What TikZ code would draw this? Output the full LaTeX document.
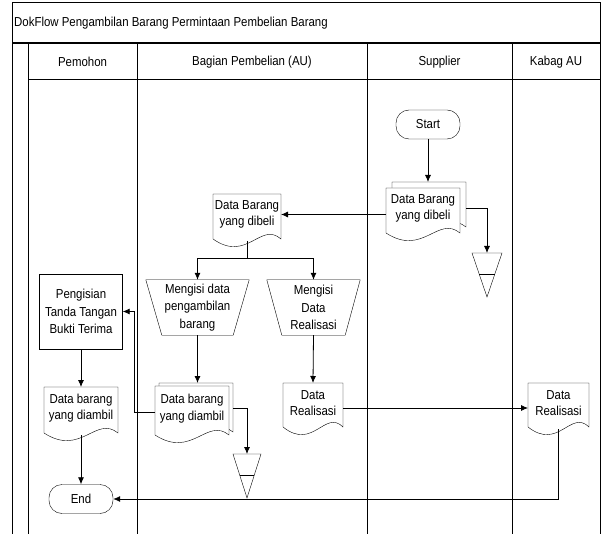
\documentclass[tikz,border=0pt]{standalone}
\usepackage{fontspec}
\setmainfont{Liberation Sans}[FakeStretch=0.88]
\usetikzlibrary{calc}
\usetikzlibrary{positioning}
\usetikzlibrary{arrows.meta}
\usetikzlibrary{backgrounds}

% document with wavy bottom, #2 = offset of the copy
\newcommand{\docpath}[2]{([shift={#2}]#1.north west) -- ([shift={#2}]#1.north east) -- ([shift={#2},yshift=-4pt]#1.south east) .. controls ($(#1.south west)!0.7!(#1.south east)+(0pt,14pt)+#2$) and ($(#1.south west)!0.5!(#1.south east)+(0pt,-28pt)+#2$) .. ([shift={#2},yshift=-4pt]#1.south west) -- cycle}
\newcommand{\drawdoc}[1]{\draw \docpath{#1}{(0pt,0pt)};}
\newcommand{\drawmultidoc}[2]{\begin{pgfonlayer}{background}
  \draw[fill=white] \docpath{#1}{#2};
  \draw[fill=white] \docpath{#1}{(0pt,0pt)};
\end{pgfonlayer}}
\newcommand{\drawmanual}[2]{\draw (#1.north west) -- (#1.north east) -- ([xshift=-#2]#1.south east) -- ([xshift=#2]#1.south west) -- cycle;}
\newcommand{\drawstore}[1]{\draw (#1.north west) -- (#1.north east) -- (#1.south) -- cycle;
  \draw ($(#1.north west)!0.48!(#1.south)$) -- ($(#1.north east)!0.48!(#1.south)$);}

\begin{document}
\begin{tikzpicture}[x=1pt, y=-1pt,
    every node/.style={font=\fontsize{13}{16.5}\selectfont, align=center},
    frame/.style={line width=1pt},
    term/.style={draw, rectangle, rounded corners=13pt, minimum width=64pt, minimum height=29pt, inner sep=0pt},
    proc/.style={draw, rectangle, minimum width=83pt, minimum height=75pt, inner sep=0pt, font=\fontsize{13}{17.5}\selectfont},
    doc/.style={rectangle, inner sep=0pt, outer sep=0pt},
    manual/.style={rectangle, inner sep=0pt, minimum height=55pt, font=\fontsize{13}{17.5}\selectfont},
    store/.style={rectangle, inner sep=0pt, outer sep=0pt, minimum width=30pt, minimum height=44pt},
    arr/.style={-{Latex[length=7pt,width=6pt]}, line width=0.8pt}]
  \useasboundingbox (0,0) rectangle (607,534);

  % swimlanes
  \draw[frame] (12.5,534) -- (12.5,3) -- (600.5,3) -- (600.5,534);
  \draw[line width=1.6pt] (12.5,43) -- (600.5,43);
  \draw[frame] (28,80) -- (600.5,80);
  \foreach \x in {28,137,367,512}
    \draw[frame] (\x,43) -- (\x,534);
  \node[anchor=west, inner sep=0pt] (title) at (14,23) {DokFlow Pengambilan Barang Permintaan Pembelian Barang};
  \node (lanePemohon) at (82.5,62) {Pemohon};
  \node (laneAU) at (252,62) {Bagian Pembelian (AU)};
  \node (laneSupplier) at (439.5,62) {Supplier};
  \node (laneKabag) at (556,62) {Kabag AU};

  % supplier
  \node[term] (start) at (428,124.5) {Start};
  \node[doc, minimum width=74pt, minimum height=41pt] (supDoc) at (423,208.5) {Data Barang\\yang dibeli};
  \node[store] (supStore) at (487,275) {};

  % bagian pembelian
  \node[doc, minimum width=68pt, minimum height=41pt] (auDoc) at (247,214.5) {Data Barang\\yang dibeli};
  \coordinate (split) at (247,258);
  \node[manual, minimum width=103pt] (isiAmbil) at (197.5,307.5) {Mengisi data\\pengambilan\\barang};
  \node[manual, minimum width=93pt] (isiReal) at (313.5,307.5) {Mengisi\\Data\\Realisasi};
  \node[doc, minimum width=74pt, minimum height=45pt] (auAmbil) at (192,408.5) {Data barang\\yang diambil};
  \node[store, minimum width=28pt] (auStore) at (247,476) {};
  \node[doc, minimum width=60pt, minimum height=40pt] (auReal) at (313,403) {Data\\Realisasi};

  % pemohon
  \node[proc] (isiTtd) at (81,311.5) {Pengisian\\Tanda Tangan\\Bukti Terima};
  \node[doc, minimum width=74pt, minimum height=42pt] (pemAmbil) at (81,408) {Data barang\\yang diambil};
  \node[term] (stop) at (81,499) {End};

  % kabag
  \node[doc, minimum width=61pt, minimum height=40pt] (kabReal) at (558.5,403) {Data\\Realisasi};

  \drawmultidoc{supDoc}{(6pt,6pt)}
  \drawmultidoc{auAmbil}{(4pt,3pt)}
  \drawdoc{auDoc}
  \drawdoc{auReal}
  \drawdoc{pemAmbil}
  \drawdoc{kabReal}
  \drawmanual{isiAmbil}{16pt}
  \drawmanual{isiReal}{15pt}
  \drawstore{supStore}
  \drawstore{auStore}

  % flows
  \draw[arr] (start.south) -- ($(start.south |- supDoc.north)+(0pt,6pt)$);
  \draw[arr] (supDoc.west |- auDoc.east) -- (auDoc.east);
  \draw[arr] ([xshift=6pt]supDoc.east) -| (supStore.north);
  \draw[line width=0.8pt, shorten <=6pt] (auDoc.south) -- (split);
  \draw[arr] (split) -| (isiAmbil.north);
  \draw[arr] (split) -| (isiReal.north);
  \draw[arr] (isiAmbil.south) -- ($(isiAmbil.south |- auAmbil.north)+(0pt,3pt)$);
  \draw[arr] (isiReal.south) -- (auReal.north);
  \draw[arr] ([yshift=-4pt]auAmbil.west) -| ([xshift=12pt]isiTtd.east) -- (isiTtd.east);
  \draw[arr] ([xshift=4pt]auAmbil.east) -| (auStore.north);
  \draw[arr] ([yshift=-5pt]auReal.east) -- ([yshift=-5pt]kabReal.west);
  \draw[arr, shorten <=6pt] (kabReal.south) |- (stop.east);
  \draw[arr] (isiTtd.south) -- (pemAmbil.north);
  \draw[arr, shorten <=6pt] (pemAmbil.south) -- (stop.north);
\end{tikzpicture}
\end{document}
